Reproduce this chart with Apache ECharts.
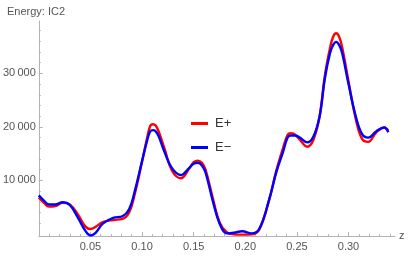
<!DOCTYPE html>
<html><head><meta charset="utf-8">
<script src="https://cdn.jsdelivr.net/npm/echarts@6/dist/echarts.min.js"></script>
<style>html,body{margin:0;padding:0;background:#fff}#c{width:411px;height:256px}</style>
</head><body><div id="c"></div>
<script>
const zValues = [0,0.005,0.01,0.016,0.023,0.03,0.038,0.045,0.05,0.055,0.062,0.072,0.081,0.0875,0.093,0.1,0.105,0.108,0.1106,0.113,0.116,0.122,0.129,0.1375,0.146,0.15,0.154,0.158,0.1615,0.169,0.175,0.182,0.189,0.197,0.206,0.2135,0.223,0.23,0.2365,0.241,0.244,0.248,0.252,0.26,0.266,0.272,0.277,0.282,0.285,0.288,0.291,0.294,0.3,0.307,0.313,0.319,0.327,0.3346,0.3385];
const ePlus  = [6800,5800,5100,5200,5800,5500,3600,1400,900,1300,2200,2600,2800,4000,7500,13500,18000,20200,20500,20300,19200,15800,11800,10400,12300,13400,13700,13300,12000,6300,2200,300,-100,-150,-100,800,6300,11800,16000,18500,18800,18600,17800,16300,17600,22000,29500,34700,36800,37500,36800,34700,28500,21500,17800,17200,19000,19900,19300];
const eMinus = [7200,6200,5500,5500,5900,5400,3000,600,-300,200,1900,3000,3300,4600,8000,13600,17500,19200,19400,19200,18300,15200,12300,11000,12400,13100,13300,12800,11500,5800,2000,100,200,500,100,900,6300,11500,15300,18000,18400,18400,18100,17100,18200,22000,29000,33800,35300,35900,35300,33700,28000,22000,18700,18000,19200,19900,19000];
const xMajor = [0.05,0.10,0.15,0.20,0.25,0.30];
const xMinor = [0.01,0.02,0.03,0.04,0.06,0.07,0.08,0.09,0.11,0.12,0.13,0.14,0.16,0.17,0.18,0.19,0.21,0.22,0.23,0.24,0.26,0.27,0.28,0.29,0.31,0.32,0.33,0.34];
const yMajor = [10000,20000,30000];
const yMinor = [2000,4000,6000,8000,12000,14000,16000,18000,22000,24000,26000,28000,32000,34000,36000,38000];
const titleText = 'Energy: IC2';
const seriesNames = ['E+','E\u2212'];

const FONT = 'Liberation Sans';
const grey = '#b3b3b3';
const labelColor = '#555';
const fmtY = v => String(v).replace(/(\d)(?=(\d{3})+$)/g, '$1\u2009');

const chart = echarts.init(document.getElementById('c'), null, {renderer:'canvas'});
const xCommon = {type:'value', min:0, max:0.345, splitLine:{show:false}};
const yCommon = {type:'value', min:-400, max:39800, splitLine:{show:false}};
chart.setOption({
  animation:false,
  title:{text:titleText, left:2, top:1, textStyle:{fontFamily:FONT, fontSize:11, fontWeight:'normal', color:labelColor}},
  legend:{orient:'vertical', left:186, top:112, itemGap:11, itemWidth:17, itemHeight:3, icon:'rect',
    textStyle:{fontFamily:FONT, fontSize:13, color:'#333', padding:[0,0,0,2]},
    data:seriesNames},
  grid:{left:36, right:16, top:21, bottom:20, containLabel:false},
  xAxis:[
    Object.assign({}, xCommon, {position:'bottom', name:'z', nameLocation:'end', nameGap:4,
      nameTextStyle:{fontFamily:FONT, fontSize:11, color:labelColor},
      axisLine:{show:true, onZero:false, lineStyle:{color:grey, width:1}},
      axisTick:{show:true, inside:true, length:4, customValues:xMajor, lineStyle:{color:grey}},
      axisLabel:{customValues:xMajor, formatter:v=>v.toFixed(2), fontFamily:FONT, fontSize:11, color:labelColor, margin:5}}),
    Object.assign({}, xCommon, {position:'bottom',
      axisLine:{show:false, onZero:false},
      axisTick:{show:true, inside:true, length:2, customValues:xMinor, lineStyle:{color:grey}},
      axisLabel:{show:false}})
  ],
  yAxis:[
    Object.assign({}, yCommon, {position:'left',
      axisLine:{show:true, onZero:false, lineStyle:{color:grey, width:1}},
      axisTick:{show:true, inside:true, length:4, customValues:yMajor, lineStyle:{color:grey}},
      axisLabel:{customValues:yMajor, formatter:fmtY, fontFamily:FONT, fontSize:11, color:labelColor, margin:3}}),
    Object.assign({}, yCommon, {position:'left',
      axisLine:{show:false, onZero:false},
      axisTick:{show:true, inside:true, length:2, customValues:yMinor, lineStyle:{color:grey}},
      axisLabel:{show:false}})
  ],
  series:[
    {name:seriesNames[0], type:'line', smooth:0.4, showSymbol:false, symbol:'none', clip:false,
     data:zValues.map((z,i)=>[z,ePlus[i]]), lineStyle:{color:'#ff0000', width:2.4}, itemStyle:{color:'#ff0000'}},
    {name:seriesNames[1], type:'line', smooth:0.4, showSymbol:false, symbol:'none', clip:false,
     data:zValues.map((z,i)=>[z,eMinus[i]]), lineStyle:{color:'#0000ff', width:2.4}, itemStyle:{color:'#0000ff'}}
  ]
});
</script></body></html>
